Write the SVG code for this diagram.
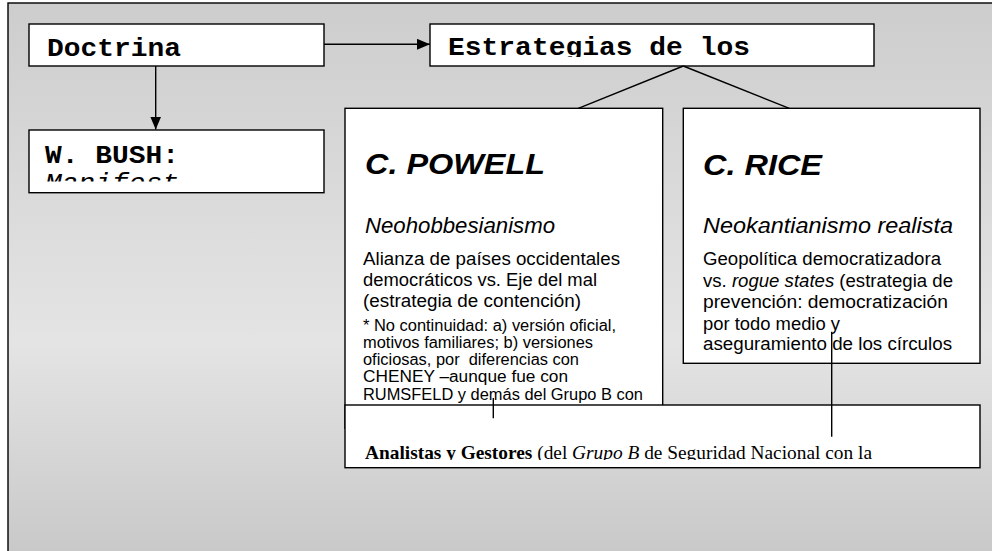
<svg xmlns="http://www.w3.org/2000/svg" width="992" height="551" viewBox="0 0 992 551">
<defs>
<linearGradient id="bg" gradientUnits="userSpaceOnUse" x1="0" y1="3" x2="0" y2="551">
<stop offset="0" stop-color="#cdcdcd"/>
<stop offset="0.62" stop-color="#e4e4e4"/>
<stop offset="1" stop-color="#c9c9c9"/>
</linearGradient>
<marker id="ah" markerUnits="userSpaceOnUse" markerWidth="13" markerHeight="11" refX="13" refY="5.5" orient="auto">
<path d="M0,0 L13,5.5 L0,11 z" fill="#000"/>
</marker>
<clipPath id="clipEst"><rect x="427" y="24" width="447" height="33"/></clipPath>
<clipPath id="clipBush"><rect x="29" y="130" width="295" height="51.5"/></clipPath>
<clipPath id="clipAna"><rect x="345" y="405" width="635" height="55"/></clipPath>
</defs>
<style>
.box{fill:#fff;stroke:#000;stroke-width:1.4}
.mono{font-family:"Liberation Mono","Courier New",monospace;font-weight:bold;font-size:26px;fill:#000}
.monoi{font-family:"Liberation Mono","Courier New",monospace;font-style:italic;font-size:26px;fill:#000}
.head{font-family:"Liberation Sans",Arial,sans-serif;font-weight:bold;font-style:italic;font-size:30px;fill:#000}
.sub{font-family:"Liberation Sans",Arial,sans-serif;font-style:italic;font-size:21.5px;fill:#000}
.body{font-family:"Liberation Sans",Arial,sans-serif;font-size:17.5px;fill:#000}
.small{font-family:"Liberation Sans",Arial,sans-serif;font-size:16px;fill:#000}
.serif{font-family:"Liberation Serif","Times New Roman",serif;font-size:19.5px;fill:#000}
.conn{stroke:#000;stroke-width:1.4;fill:none}
</style>
<rect x="0" y="0" width="992" height="551" fill="#fff"/>
<rect x="8" y="3" width="1000" height="600" fill="url(#bg)" stroke="#000" stroke-width="1.4"/>

<g id="node-doctrina">
<rect class="box" x="29" y="24" width="295" height="42"/>
<text class="mono" x="47" y="56" textLength="134" lengthAdjust="spacingAndGlyphs">Doctrina</text>
</g>

<g id="node-estrategias">
<rect class="box" x="430" y="24" width="444" height="42"/>
<g clip-path="url(#clipEst)">
<text class="mono" x="448" y="55" textLength="302" lengthAdjust="spacingAndGlyphs">Estrategias de los</text>
</g>
</g>

<g id="node-bush">
<rect class="box" x="29" y="130" width="295" height="62.7"/>
<g clip-path="url(#clipBush)">
<text class="mono" x="45" y="162.7" textLength="134" lengthAdjust="spacingAndGlyphs">W. BUSH:</text>
<text class="monoi" x="45" y="191" textLength="134" lengthAdjust="spacingAndGlyphs">Manifest</text>
</g>
</g>

<g id="node-powell">
<rect class="box" x="345" y="108.3" width="317.7" height="320"/>
<text class="head" x="365" y="174" textLength="180" lengthAdjust="spacingAndGlyphs">C. POWELL</text>
<text class="sub" x="365" y="233" textLength="190" lengthAdjust="spacingAndGlyphs">Neohobbesianismo</text>
<text class="body" x="363" y="265" textLength="257" lengthAdjust="spacingAndGlyphs">Alianza de países occidentales</text>
<text class="body" x="363" y="286" textLength="234" lengthAdjust="spacingAndGlyphs">democráticos vs. Eje del mal</text>
<text class="body" x="363" y="307" textLength="218" lengthAdjust="spacingAndGlyphs">(estrategia de contención)</text>
<text class="small" x="363" y="331" textLength="253" lengthAdjust="spacingAndGlyphs">* No continuidad: a) versión oficial,</text>
<text class="small" x="363" y="348" textLength="230" lengthAdjust="spacingAndGlyphs">motivos familiares; b) versiones</text>
<text class="small" x="363" y="365" textLength="216" lengthAdjust="spacingAndGlyphs" xml:space="preserve">oficiosas, por  diferencias con</text>
<text class="small" x="363" y="382" textLength="205" lengthAdjust="spacingAndGlyphs">CHENEY –aunque fue con</text>
<text class="small" x="363" y="400" textLength="280" lengthAdjust="spacingAndGlyphs">RUMSFELD y demás del Grupo B con</text>
</g>

<g id="node-rice">
<rect class="box" x="683.3" y="108.3" width="296.7" height="255"/>
<text class="head" x="703" y="175" textLength="119" lengthAdjust="spacingAndGlyphs">C. RICE</text>
<text class="sub" x="703" y="233" textLength="250" lengthAdjust="spacingAndGlyphs">Neokantianismo realista</text>
<text class="body" x="703" y="265" textLength="238" lengthAdjust="spacingAndGlyphs">Geopolítica democratizadora</text>
<text class="body" x="703" y="286.7" textLength="250" lengthAdjust="spacingAndGlyphs">vs. <tspan font-style="italic">rogue states</tspan> (estrategia de</text>
<text class="body" x="703" y="308" textLength="245" lengthAdjust="spacingAndGlyphs">prevención: democratización</text>
<text class="body" x="703" y="330" textLength="137" lengthAdjust="spacingAndGlyphs">por todo medio y</text>
<text class="body" x="703" y="350" textLength="249" lengthAdjust="spacingAndGlyphs">aseguramiento de los círculos</text>
</g>

<g id="node-analistas">
<rect class="box" x="345" y="405" width="635" height="62.7"/>
<g clip-path="url(#clipAna)">
<text class="serif" x="365" y="459" textLength="507" lengthAdjust="spacingAndGlyphs"><tspan font-weight="bold">Analistas y Gestores</tspan> (del <tspan font-style="italic">Grupo B</tspan> de Seguridad Nacional con la</text>
</g>
</g>

<g id="connectors">
<line class="conn" x1="324" y1="44.3" x2="430" y2="44.3" marker-end="url(#ah)"/>
<line class="conn" x1="155.7" y1="66" x2="155.7" y2="129.5" marker-end="url(#ah)"/>
<line class="conn" x1="683.3" y1="66" x2="578.3" y2="108.3"/>
<line class="conn" x1="683.3" y1="66" x2="789.3" y2="108.3"/>
<line class="conn" x1="493.3" y1="398" x2="493.3" y2="418.3"/>
<line class="conn" x1="831.7" y1="331.7" x2="831.7" y2="436.7"/>
</g>
</svg>
